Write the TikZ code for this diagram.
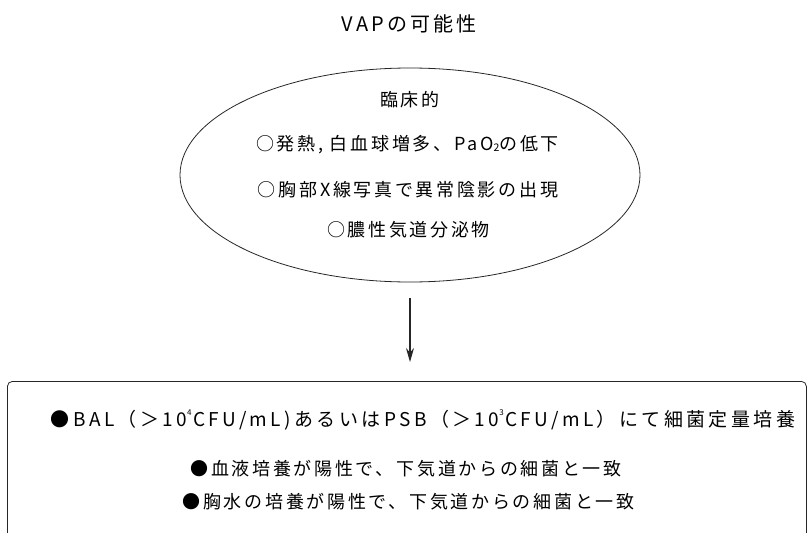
\documentclass[tikz,border=0pt]{standalone}
\usepackage{fontspec}
\setmainfont{Noto Sans CJK JP}
\newfontfamily\jp[LetterSpace=15]{Noto Sans CJK JP}
\newfontfamily\jpwide[LetterSpace=18]{Noto Sans CJK JP}
\usetikzlibrary{arrows.meta,shapes.geometric}
\newcommand{\supx}[1]{\raisebox{0.6em}{\fontsize{8}{8}\selectfont #1}\kern1.5pt}
\newcommand{\subx}[1]{\raisebox{-0.05em}{\fontsize{10.5}{10.5}\selectfont #1}}
\begin{document}
\begin{tikzpicture}[x=1pt,y=-1pt,
  txt/.style={font=\jp\fontsize{18}{18}\selectfont, inner sep=0pt, anchor=center},
  frame/.style={draw=black!85, line width=0.8pt},
  conn/.style={draw=black!85, line width=1.1pt, -{Stealth[length=14pt,width=8pt]}}]
\useasboundingbox (0,0) rectangle (807,533);
\clip (0,0) rectangle (807,533);
\node[txt, font=\jp\fontsize{20}{20}\selectfont] (title) at (409,24) {VAPの可能性};
\node[frame, ellipse, minimum width=460pt, minimum height=214pt, inner sep=0pt] (clin) at (410,175) {};
\node[txt] (c0) at (410,100) {臨床的};
\node[txt] (c1) at (407.5,145) {○発熱, 白血球増多、PaO\subx{2}の低下};
\node[txt] (c2) at (408,190) {○胸部X線写真で異常陰影の出現};
\node[txt] (c3) at (408.5,230) {○膿性気道分泌物};
\node[frame, rounded corners=5pt, minimum width=799pt, minimum height=200pt, anchor=north west, inner sep=0pt] (box) at (7,381) {};
\node[txt, font=\jpwide\fontsize{19}{19}\selectfont] (b1) at (423,420) {●BAL（＞10\supx{4}CFU/mL)あるいはPSB（＞10\supx{3}CFU/mL）にて細菌定量培養};
\node[txt] (b2) at (406,469) {●血液培養が陽性で、下気道からの細菌と一致};
\node[txt] (b3) at (408.5,502) {●胸水の培養が陽性で、下気道からの細菌と一致};
\draw[conn] ([yshift=-16pt]clin.south) -- ([yshift=19pt]clin.south |- box.north);
\end{tikzpicture}
\end{document}
